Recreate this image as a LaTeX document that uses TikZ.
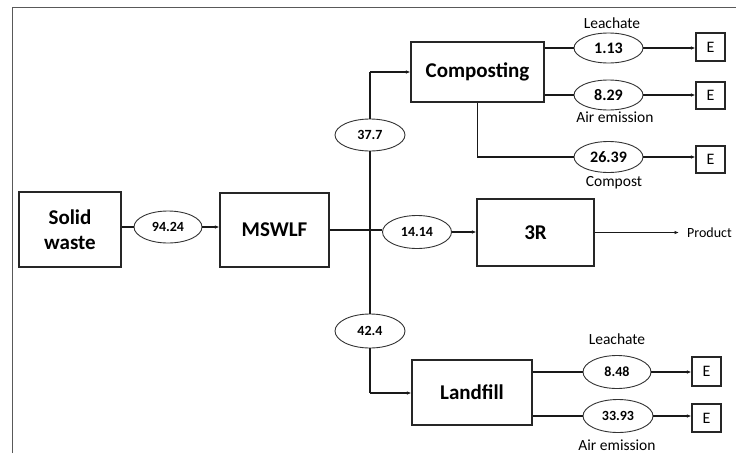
\documentclass[tikz,border=0pt]{standalone}
\usepackage{fontspec}
\setmainfont{Carlito}
\usetikzlibrary{arrows.meta,shapes.geometric}
\begin{document}
\begin{tikzpicture}[x=1pt,y=-1pt,
  box/.style={draw=black!85,line width=1.1pt,rectangle,inner sep=0pt,font=\fontsize{21}{25}\selectfont\bfseries,align=center},
  num/.style={draw=black!80,line width=0.9pt,ellipse,inner sep=0pt,font=\fontsize{14}{16}\selectfont\bfseries,fill=white},
  bignum/.style={num,font=\fontsize{16}{18}\selectfont\bfseries},
  ebox/.style={draw=black!85,line width=1.1pt,rectangle,inner sep=0pt,minimum width=29pt,minimum height=28pt,font=\fontsize{16}{18}\selectfont},
  lbl/.style={inner sep=0pt,font=\fontsize{15.5}{18}\selectfont},
  ln/.style={draw=black!90,line width=1.1pt},
  arr/.style={ln,-{Latex[length=4.5pt,width=3.5pt]}}
]
\useasboundingbox (0,0) rectangle (736,453);
% frame
\draw[black!65,line width=1pt] (12,453) -- (12,7) -- (736,7);
% main boxes
\node[box,minimum width=102pt,minimum height=75pt] (sw) at (70,229.5) {Solid\\waste};
\node[box,minimum width=109pt,minimum height=74pt] (mswlf) at (274.5,230) {MSWLF};
\node[box,minimum width=133pt,minimum height=60pt] (comp) at (477.5,72) {Composting};
\node[box,minimum width=117pt,minimum height=67pt] (r3) at (535.5,232.5) {3R};
\node[box,minimum width=120pt,minimum height=65pt] (land) at (472,392.5) {Landfill};
% flow ellipses
\node[num,minimum width=68pt,minimum height=32pt] (e94) at (168,227) {94.24};
\node[num,minimum width=70pt,minimum height=32pt] (e377) at (370,135) {37.7};
\node[num,minimum width=69pt,minimum height=33pt] (e1414) at (417,232) {14.14};
\node[num,minimum width=70pt,minimum height=34pt] (e424) at (370,331) {42.4};
\node[bignum,minimum width=69pt,minimum height=30pt] (e113) at (608.5,48) {1.13};
\node[bignum,minimum width=69pt,minimum height=30pt] (e829) at (608.5,95) {8.29};
\node[bignum,minimum width=69pt,minimum height=31pt] (e2639) at (608.5,157) {26.39};
\node[num,minimum width=68pt,minimum height=33pt] (e848) at (617,372) {8.48};
\node[num,minimum width=70pt,minimum height=33pt] (e3393) at (618,416) {33.93};
% E boxes
\node[ebox] (E1) at (710.5,47) {E};
\node[ebox,minimum height=27pt] (E2) at (710.5,95.5) {E};
\node[ebox,minimum height=27pt] (E3) at (710.5,159.5) {E};
\node[ebox,minimum height=29pt] (E4) at (706.5,371.5) {E};
\node[ebox] (E5) at (706.5,418) {E};
% labels
\node[lbl] (l1) at (612,23) {Leachate};
\node[lbl] (l2) at (615,117) {Air emission};
\node[lbl] (l3) at (614,183) {Compost};
\node[lbl] (l4) at (617,339) {Leachate};
\node[lbl] (l5) at (617,445) {Air emission};
\node[lbl,anchor=west,font=\fontsize{14}{16}\selectfont] (prod) at (687,233) {Product};
% junction coordinates
\coordinate (J) at (370,230);
\coordinate (Jt) at (370,72);
\coordinate (Jb) at (370,393);
% connectors
\draw[ln] (e94.west -| sw.east) -- (e94.west);
\draw[arr] (e94.east) -- (e94.east -| mswlf.west);
\draw[ln,line width=1.4pt] (J -| mswlf.east) -- (J);
\draw[ln] (J) -- (e1414.west |- J);
\draw[arr] (e1414.east) -- (e1414.east -| r3.west);
\draw[ln] (Jt) -- (e377.north);
\draw[ln] (e377.south) -- (e424.north);
\draw[ln] (e424.south) -- (Jb);
\draw[arr] (Jt) -- (Jt -| comp.west);
\draw[arr] (Jb) -- (Jb -| land.west);
\draw[ln] (e113.west -| comp.east) -- (e113.west);
\draw[arr] (e113.east) -- (e113.east -| E1.west);
\draw[ln] (e829.west -| comp.east) -- (e829.west);
\draw[arr] (e829.east) -- (e829.east -| E2.west);
\draw[ln] (comp.south) -- (comp.south |- e2639.west) -- (e2639.west);
\draw[arr] (e2639.east) -- (e2639.east -| E3.west);
\draw[ln] (e848.west -| land.east) -- (e848.west);
\draw[arr] (e848.east) -- (e848.east -| E4.west);
\draw[ln] (e3393.west -| land.east) -- (e3393.west);
\draw[arr] (e3393.east) -- (e3393.east -| E5.west);
\draw[arr] (r3.east) -- ([xshift=-8pt]prod.west |- r3.east);
\end{tikzpicture}
\end{document}
